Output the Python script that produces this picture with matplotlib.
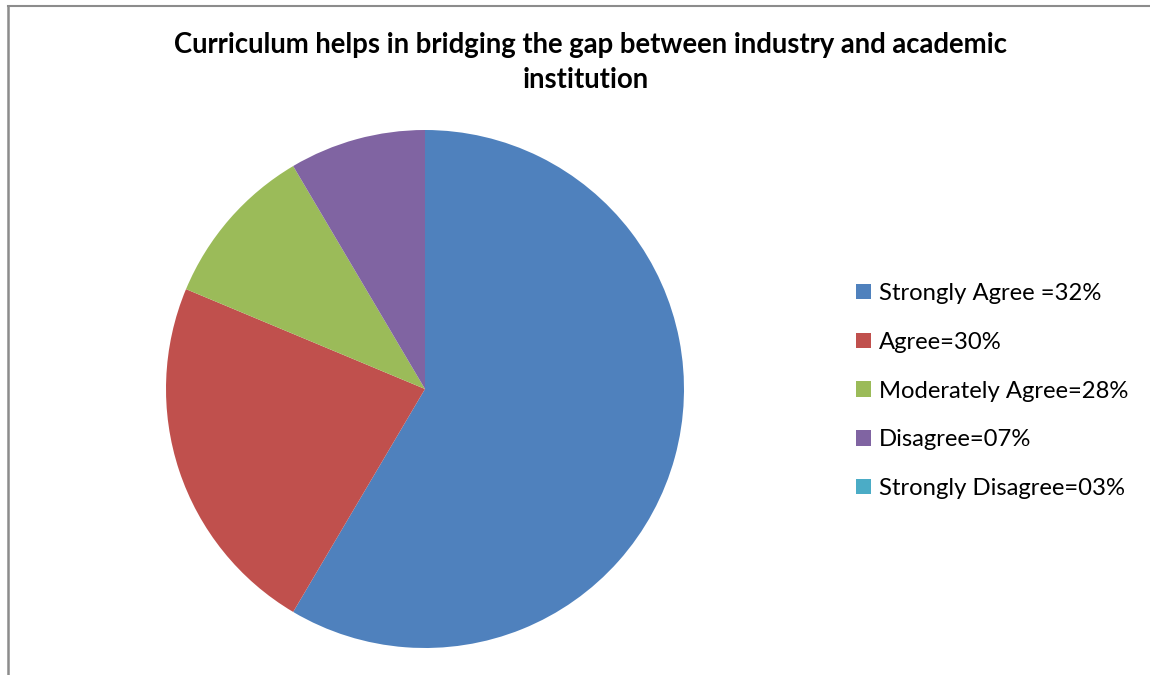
import matplotlib.pyplot as plt
from matplotlib.lines import Line2D

# survey responses (share of the pie as drawn)
labels = ['Strongly Agree =32%', 'Agree=30%', 'Moderately Agree=28%',
          'Disagree=07%', 'Strongly Disagree=03%']
shares = [58.5, 22.8, 10.2, 8.5, 0.0]
colors = ['#4F81BD', '#C0504D', '#9BBB59', '#8064A2', '#4BACC6']

plt.rcParams['font.family'] = ['Lato', 'DejaVu Sans']

W, H = 1150, 675
fig = plt.figure(figsize=(W / 100, H / 100), dpi=100)

# pie centred at (425, 389) px with radius 259 px
cx, cy, r = 425, 389, 259
ax = fig.add_axes([(cx - r) / W, (H - cy - r) / H, 2 * r / W, 2 * r / H])
wedges, _ = ax.pie(shares, colors=colors, startangle=90, counterclock=False,
                   radius=1, wedgeprops=dict(linewidth=0))
ax.set_xlim(-1, 1)
ax.set_ylim(-1, 1)
ax.set_aspect('equal')
ax.axis('off')

fig.text(590 / W, 1 - 45 / H, 'Curriculum helps in bridging the gap between industry and academic',
         ha='center', va='center', fontsize=19.8, fontweight='bold')
fig.text(586 / W, 1 - 80 / H, 'institution',
         ha='center', va='center', fontsize=19.8, fontweight='bold')

fig.legend(wedges, labels, loc='center left', bbox_to_anchor=(856 / W, 1 - 391 / H),
           frameon=False, fontsize=17.2, handlelength=0.63, handleheight=0.63,
           handletextpad=0.34, labelspacing=1.16, borderpad=0, borderaxespad=0)

# chart area border (top and left edges)
fig.add_artist(Line2D([8 / W, 1], [1 - 6 / H, 1 - 6 / H], color='#8c8c8c', lw=1.5))
fig.add_artist(Line2D([8 / W, 8 / W], [0, 1 - 6 / H], color='#8c8c8c', lw=1.8))

fig.savefig('out.png', dpi=100, facecolor='white')
